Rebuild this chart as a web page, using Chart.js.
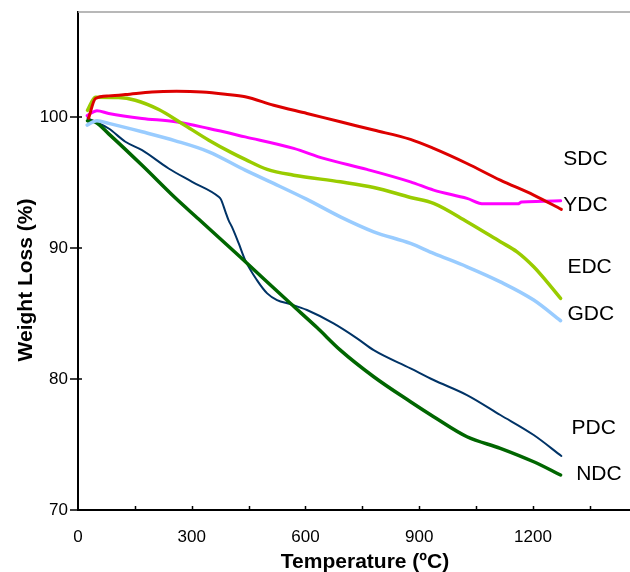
<!DOCTYPE html>
<html>
<head>
<meta charset="utf-8">
<title>Weight Loss vs Temperature</title>
<script src="https://cdn.jsdelivr.net/npm/chart.js@4/dist/chart.umd.min.js"></script>
<style>
  html, body { margin: 0; padding: 0; background: #fff; }
  #wrap { width: 630px; height: 572px; position: relative; }
</style>
</head>
<body>
<div id="wrap"><canvas id="tgaChart"></canvas></div>
<script>
// Curvas de TGA (perda de massa x temperatura)
const tempSDC   = [28, 46, 81, 125, 195, 260, 327, 389, 441, 516, 604, 692, 780, 877, 938, 1026, 1114, 1202, 1275];
const weightSDC = [99.9, 101.4, 101.6, 101.7, 101.9, 101.95, 101.9, 101.73, 101.53, 100.89, 100.26, 99.62, 98.99, 98.28, 97.59, 96.44, 95.17, 94.03, 92.94];

const tempYDC   = [24, 50, 81, 169, 257, 345, 441, 569, 648, 762, 877, 938, 1026, 1070, 1160, 1170, 1273];
const weightYDC = [100.1, 100.46, 100.26, 99.88, 99.62, 99.11, 98.47, 97.59, 96.83, 95.99, 95.04, 94.41, 93.78, 93.36, 93.36, 93.5, 93.59];

const tempEDC   = [25, 46, 107, 151, 213, 274, 345, 406, 441, 499, 569, 692, 780, 877, 938, 1026, 1114, 1158, 1202, 1237, 1273];
const weightEDC = [100.5, 101.5, 101.48, 101.27, 100.56, 99.5, 98.22, 97.25, 96.75, 95.99, 95.55, 95.04, 94.61, 93.85, 93.4, 92.0, 90.47, 89.7, 88.56, 87.41, 86.15];

const tempGDC   = [24, 50, 81, 169, 257, 345, 441, 516, 604, 692, 780, 877, 938, 1026, 1114, 1202, 1273];
const weightGDC = [99.37, 99.7, 99.5, 98.86, 98.17, 97.33, 95.93, 94.92, 93.7, 92.37, 91.23, 90.34, 89.58, 88.56, 87.41, 86.02, 84.44];

const tempPDC   = [25, 46, 81, 125, 169, 239, 301, 371, 377, 389, 397, 406, 424, 441, 472, 499, 525, 560, 604, 674, 736, 780, 877, 938, 1026, 1114, 1202, 1275];
const weightPDC = [99.9, 99.62, 99.11, 98.1, 97.46, 96.06, 95.04, 93.9, 93.7, 92.75, 92.12, 91.6, 90.34, 89.07, 87.54, 86.53, 86.02, 85.71, 85.26, 84.24, 83.1, 82.2, 80.81, 79.92, 78.77, 77.25, 75.72, 74.12];

const tempNDC   = [25, 46, 81, 169, 257, 318, 428, 560, 631, 692, 780, 877, 938, 1026, 1114, 1202, 1273];
const weightNDC = [99.7, 99.6, 98.7, 96.3, 93.8, 92.2, 89.3, 85.77, 83.9, 82.2, 80.17, 78.26, 77.12, 75.59, 74.71, 73.68, 72.67];

// nomes das séries e onde fica o rótulo de cada uma (em unidades do gráfico)
const seriesNames = ['SDC', 'YDC', 'EDC', 'GDC', 'PDC', 'NDC'];
const labelTemps  = [1280, 1280, 1291, 1291, 1302, 1314];
const labelWeights = [96.76, 93.28, 88.5, 84.95, 76.23, 72.75];

const FONT = 'Arial, "Liberation Sans", sans-serif';
Chart.defaults.font.family = FONT;
Chart.defaults.color = '#000';

function toPoints(temps, weights) {
    return temps.map((t, i) => ({ x: t, y: weights[i] }));
}

function serie(label, temps, weights, color, width) {
    return {
        label: label,
        data: toPoints(temps, weights),
        borderColor: color,
        backgroundColor: color,
        borderWidth: width,
        pointRadius: 0,
        fill: false,
        cubicInterpolationMode: 'monotone',
        borderJoinStyle: 'round',
        borderCapStyle: 'round'
    };
}

// eixos: ticks, moldura superior, rótulos das curvas e títulos
const extrasPlugin = {
    id: 'extras',
    afterDraw(chart) {
        const { ctx, chartArea, scales } = chart;
        const xs = scales.x;
        const ys = scales.y;
        ctx.save();

        ctx.strokeStyle = '#a0a0a0';
        ctx.lineWidth = 1.5;
        ctx.beginPath();
        ctx.moveTo(chartArea.left, chartArea.top);
        ctx.lineTo(chartArea.right, chartArea.top);
        ctx.stroke();

        ctx.strokeStyle = '#000';
        ctx.lineWidth = 1.5;
        ctx.beginPath();
        xs.ticks.forEach(t => {
            const px = Math.round(xs.getPixelForValue(t.value)) + 0.5;
            if (t.value === 0) return;
            ctx.moveTo(px, chartArea.bottom);
            ctx.lineTo(px, chartArea.bottom - 4);
        });
        ys.ticks.forEach(t => {
            const py = Math.round(ys.getPixelForValue(t.value));
            ctx.moveTo(chartArea.left - 8, py);
            ctx.lineTo(chartArea.left + 4, py);
        });
        ctx.stroke();

        ctx.fillStyle = '#000';
        ctx.font = '21px ' + FONT;
        ctx.textAlign = 'left';
        ctx.textBaseline = 'middle';
        seriesNames.forEach((name, i) => {
            ctx.fillText(name, xs.getPixelForValue(labelTemps[i]), ys.getPixelForValue(labelWeights[i]));
        });

        ctx.font = 'bold 21px ' + FONT;
        ctx.textAlign = 'center';
        ctx.textBaseline = 'alphabetic';
        ctx.fillText('Temperature (ºC)', 365, 568);

        ctx.translate(32, 280);
        ctx.rotate(-Math.PI / 2);
        ctx.fillText('Weight Loss (%)', 0, 0);
        ctx.restore();
    }
};

const config = {
    type: 'line',
    data: {
        datasets: [
            serie('SDC', tempSDC, weightSDC, '#DD0000', 3),
            serie('EDC', tempEDC, weightEDC, '#99CC00', 3.5),
            serie('YDC', tempYDC, weightYDC, '#FF00FF', 3),
            serie('GDC', tempGDC, weightGDC, '#99CCFF', 3.5),
            serie('NDC', tempNDC, weightNDC, '#006600', 3.5),
            serie('PDC', tempPDC, weightPDC, '#003366', 2)
        ]
    },
    options: {
        responsive: true,
        maintainAspectRatio: false,
        animation: false,
        layout: { padding: { top: 12, right: 0, bottom: 0, left: 0 } },
        plugins: {
            legend: { display: false },
            tooltip: { enabled: false }
        },
        scales: {
            x: {
                type: 'linear',
                min: 0,
                max: 1456,
                afterFit: function(scale) {
                    scale.height = 62;
                    scale.paddingLeft = 0;
                    scale.paddingRight = 0;
                },
                border: { color: '#000', width: 2 },
                grid: { drawOnChartArea: false, drawTicks: false },
                ticks: {
                    stepSize: 150,
                    autoSkip: false,
                    maxRotation: 0,
                    includeBounds: false,
                    padding: 17,
                    font: { size: 17 },
                    callback: function(value) {
                        return value % 300 === 0 ? value : '';
                    }
                }
            },
            y: {
                min: 70,
                max: 108,
                afterFit: function(scale) {
                    scale.width = 78;
                    scale.paddingTop = 0;
                    scale.paddingBottom = 0;
                },
                border: { color: '#000', width: 2 },
                grid: { drawOnChartArea: false, drawTicks: false },
                ticks: {
                    stepSize: 10,
                    includeBounds: false,
                    padding: 10,
                    font: { size: 17 }
                }
            }
        }
    },
    plugins: [extrasPlugin]
};

new Chart(document.getElementById('tgaChart'), config);
</script>
</body>
</html>
